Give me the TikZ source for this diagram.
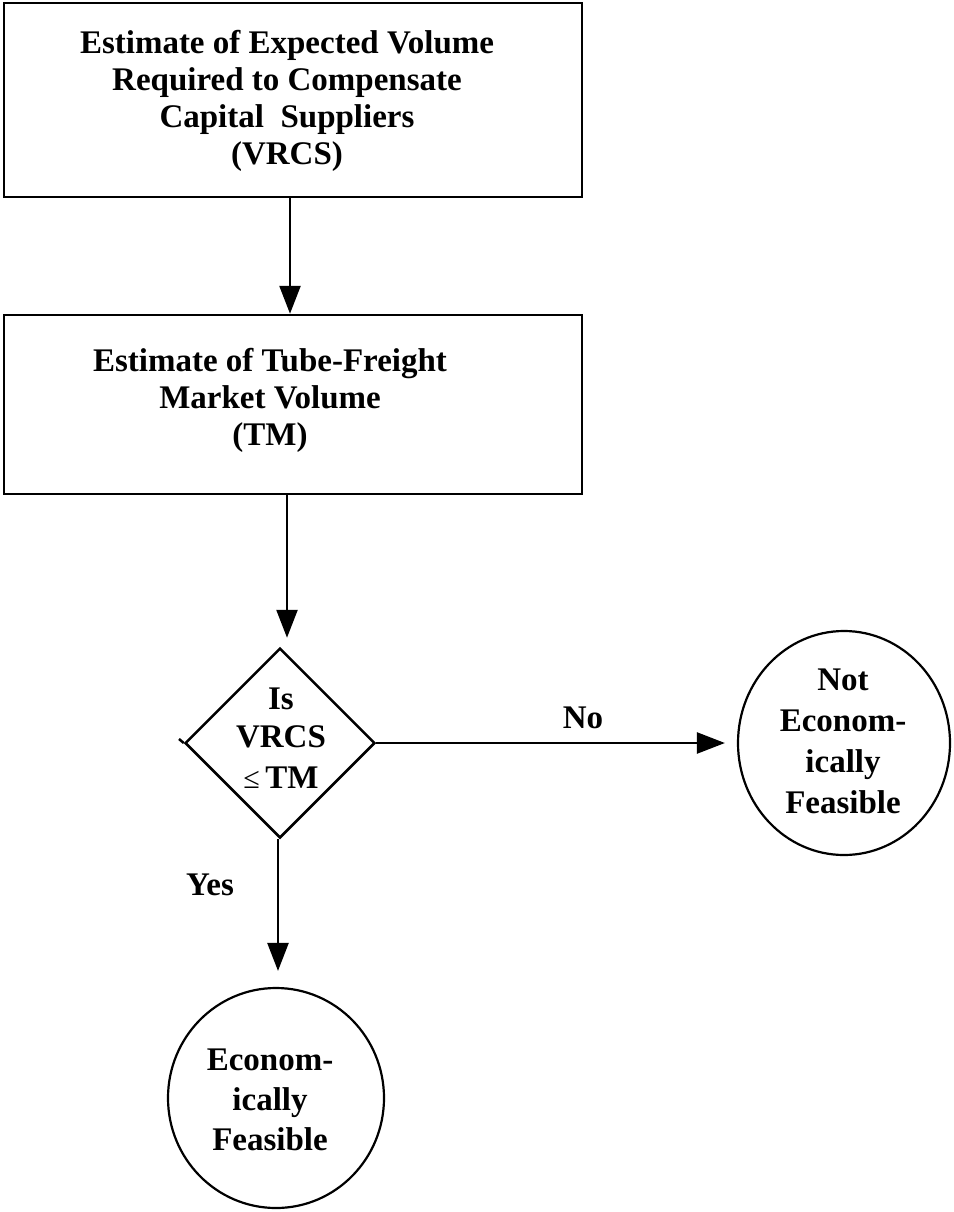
\documentclass[tikz,border=0pt]{standalone}
\usepackage{fontspec}
\setmainfont{Liberation Serif}
\usetikzlibrary{arrows.meta,shapes.geometric}
\begin{document}
\begin{tikzpicture}[x=1pt,y=-1pt,
  every node/.style={font=\bfseries\fontsize{33}{37}\selectfont, align=center},
  box/.style={draw, line width=2.5pt, inner sep=0pt},
  txt/.style={inner sep=0pt},
  circ/.style={draw, line width=2.2pt, ellipse, inner sep=0pt},
  arr/.style={line width=2.5pt, -{Triangle[length=28pt,width=21pt]}},
  line/.style={line width=2.5pt}]
\useasboundingbox (0,0) rectangle (953,1212);
% boxes
\node[box, minimum width=578pt, minimum height=194pt] (b1) at (293,100) {};
\node[txt] (t1) at (287,101) {Estimate of Expected Volume\\Required to Compensate\\Capital\ \ Suppliers\\(VRCS)};
\node[box, minimum width=578pt, minimum height=179pt] (b2) at (293,404.5) {};
\node[txt] (t2) at (270,400) {Estimate of Tube-Freight\\Market Volume\\(TM)};
% diamond
\node[diamond, draw, line width=2.5pt, minimum width=190pt, minimum height=190pt, inner sep=0pt] (d) at (280,743) {};
\node[txt, font=\bfseries\fontsize{33}{38}\selectfont] (td) at (281,738) {Is\\VRCS\\[3pt]{\mdseries\fontsize{30}{30}\selectfont ≤}\,TM};
\coordinate (dtick) at (179,739);
\draw[line] (d.west) -- (dtick);
% circles
\node[circ, minimum width=212pt, minimum height=224pt] (c1) at (844,743) {};
\node[txt, font=\bfseries\fontsize{33}{41}\selectfont] (tc1) at (843,741) {Not\\Econom-\\ically\\Feasible};
\node[circ, minimum width=216pt, minimum height=220pt] (c2) at (276,1098) {};
\node[txt, font=\bfseries\fontsize{33}{40}\selectfont] (tc2) at (270,1100) {Econom-\\ically\\Feasible};
% connectors
\draw[arr] ([xshift=-3pt]b1.south) -- ([xshift=-3pt]b2.north);
\draw[arr, shorten >=9pt] ([xshift=-6pt]b2.south) -- ([xshift=7pt]d.north);
\draw[arr, shorten >=12pt] (d.east) -- (c1.west);
\draw[arr, shorten >=16pt] ([xshift=-2pt]d.south) -- ([xshift=2pt]c2.north);
% labels
\node[txt] (no) at (583,718) {No};
\node[txt] (yes) at (210,885) {Yes};
\end{tikzpicture}
\end{document}
